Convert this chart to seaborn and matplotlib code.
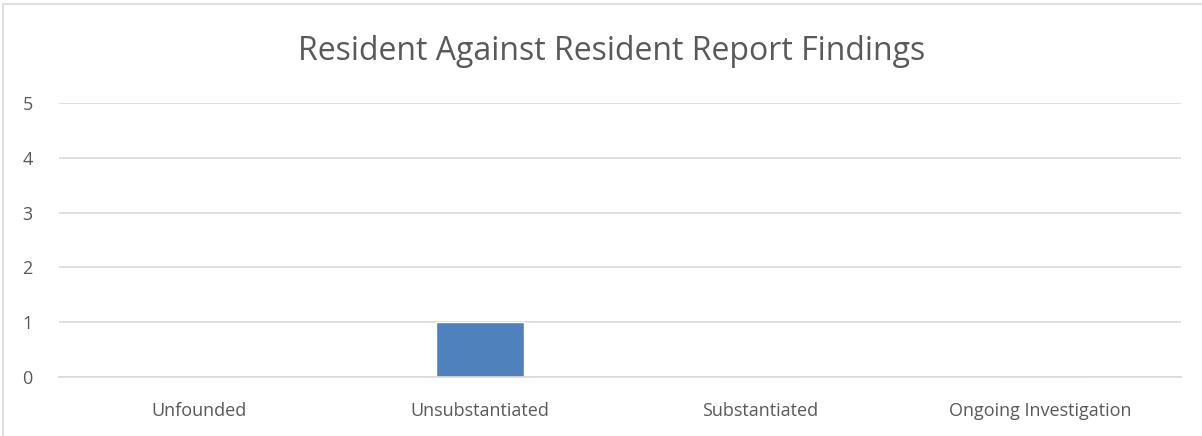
import matplotlib
matplotlib.use("Agg")
import matplotlib.pyplot as plt
import seaborn as sns
import pandas as pd
from matplotlib.patches import Rectangle

categories = ["Unfounded", "Unsubstantiated", "Substantiated", "Ongoing Investigation"]
values = [0, 1, 0, 0]
yticks = [0, 1, 2, 3, 4, 5]
title = "Resident Against Resident Report Findings"

sns.set_theme(style="white")
plt.rcParams['font.family'] = ['Open Sans', 'DejaVu Sans']

fig = plt.figure(figsize=(12.02, 4.36), dpi=100)
ax = fig.add_axes([59 / 1202, 1 - 377 / 436, (1181 - 59) / 1202, (377 - 103) / 436])

df = pd.DataFrame({"cat": categories, "val": values})
sns.barplot(data=df, x="cat", y="val", ax=ax, color="#4F81BD", width=0.314, saturation=1)

ax.set_ylim(0, 5)
ax.set_xlim(-0.5, 3.5)
ax.set_yticks(yticks)
ax.yaxis.grid(True, color="#d9d9d9", linewidth=1.2)
ax.set_axisbelow(True)
for s in ["top", "right", "left"]:
    ax.spines[s].set_visible(False)
ax.spines["bottom"].set_color("#d9d9d9")
ax.spines["bottom"].set_linewidth(1.2)
ax.set_xlabel("")
ax.set_ylabel("")
ax.tick_params(axis="both", length=0, labelsize=13, colors="#595959")
ax.tick_params(axis="x", pad=18)
ax.tick_params(axis="y", pad=19)
fig.text(612 / 1202, 1 - 60 / 436, title, ha="center", va="baseline", fontsize=23, color="#595959")

fig.patches.append(Rectangle((3 / 1202, -0.1), 1.2, 1 - 4 / 436 + 0.1, transform=fig.transFigure,
                             fill=False, edgecolor="#d9d9d9", linewidth=1.2))

fig.savefig("out.png", dpi=100)
